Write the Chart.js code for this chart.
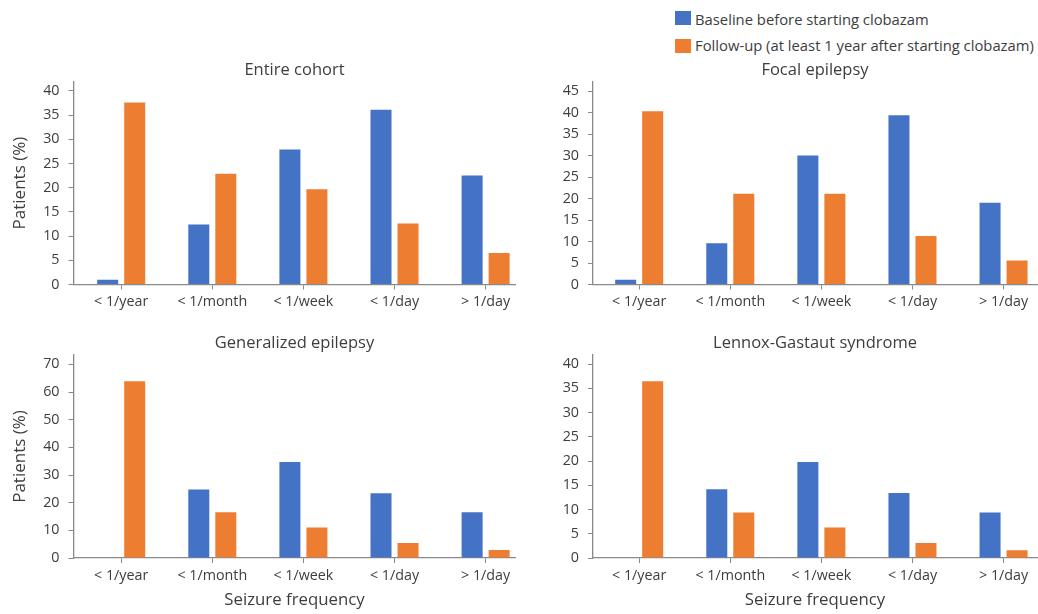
<!DOCTYPE html>
<html>
<head>
<meta charset="utf-8">
<title>Seizure frequency before and after clobazam</title>
<script src="https://cdn.jsdelivr.net/npm/chart.js@4.4.1/dist/chart.umd.min.js"></script>
<style>
  html, body { margin: 0; padding: 0; background: #ffffff; }
  body { position: relative; width: 1038px; height: 614px; overflow: hidden;
         font-family: "Open Sans", sans-serif; color: #3d3d3d; }
  canvas { position: absolute; }
  .swatch { position: absolute; left: 675px; width: 16px; height: 14px; }
  .legend-text { position: absolute; left: 695px; height: 20px; line-height: 20px;
                 font-size: 14.8px; white-space: nowrap; }
</style>
</head>
<body>
<div class="swatch" style="top:11px; background:#4472C4"></div>
<div class="legend-text" id="legend-0" style="top:8.5px"></div>
<div class="swatch" style="top:39px; background:#ED7D31"></div>
<div class="legend-text" id="legend-1" style="top:35px"></div>

<canvas id="entire" width="520" height="268" style="left:0; top:50px"></canvas>
<canvas id="focal" width="518" height="268" style="left:520px; top:50px"></canvas>
<canvas id="generalized" width="520" height="296" style="left:0; top:318px"></canvas>
<canvas id="lgs" width="518" height="296" style="left:520px; top:318px"></canvas>

<script>
// Seizure-frequency categories and series names
const categories = ['< 1/year', '< 1/month', '< 1/week', '< 1/day', '> 1/day'];
const seriesNames = ['Baseline before starting clobazam', 'Follow-up (at least 1 year after starting clobazam)'];

// Percent of patients in each category
const entireBaseline = [1.0, 12.4, 27.9, 36.1, 22.5];
const entireFollowUp = [37.6, 22.9, 19.7, 12.6, 6.5];
const focalBaseline = [1.1, 9.6, 30.0, 39.4, 19.0];
const focalFollowUp = [40.3, 21.1, 21.1, 11.3, 5.6];
const generalizedBaseline = [0, 24.8, 34.7, 23.4, 16.5];
const generalizedFollowUp = [63.9, 16.5, 11.0, 5.4, 2.9];
const lgsBaseline = [0, 14.2, 19.8, 13.4, 9.4];
const lgsFollowUp = [36.5, 9.4, 6.3, 3.1, 1.6];

// Y-axis tick labels per panel
const entireTicks = [0, 5, 10, 15, 20, 25, 30, 35, 40];
const focalTicks = [0, 5, 10, 15, 20, 25, 30, 35, 40, 45];
const generalizedTicks = [0, 10, 20, 30, 40, 50, 60, 70];
const lgsTicks = [0, 5, 10, 15, 20, 25, 30, 35, 40];

const BLUE = '#4472C4';
const ORANGE = '#ED7D31';
const TEXT = '#3d3d3d';
const AXIS = '#898989';
const FONT = '"Open Sans", sans-serif';

document.getElementById('legend-0').textContent = seriesNames[0];
document.getElementById('legend-1').textContent = seriesNames[1];

function makePanel(id, cfg) {
  const toPoints = arr => arr.map((v, i) => ({ x: i, y: v }));
  return new Chart(document.getElementById(id), {
    type: 'bar',
    data: {
      datasets: [
        { label: seriesNames[0], data: toPoints(cfg.baseline), backgroundColor: BLUE,
          borderWidth: 0, categoryPercentage: 0.593, barPercentage: 0.778 },
        { label: seriesNames[1], data: toPoints(cfg.followUp), backgroundColor: ORANGE,
          borderWidth: 0, categoryPercentage: 0.593, barPercentage: 0.778 }
      ]
    },
    options: {
      responsive: false,
      animation: false,
      devicePixelRatio: 1,
      layout: { padding: { left: 0, right: cfg.padRight, top: 0, bottom: 0 } },
      plugins: {
        legend: { display: false },
        tooltip: { enabled: false },
        title: {
          display: true, text: cfg.title, fullSize: false, color: TEXT,
          font: { family: FONT, size: 16.5, weight: 'normal', lineHeight: 1.2 },
          padding: { top: cfg.titleTop, bottom: cfg.titleBottom }
        }
      },
      scales: {
        x: {
          type: 'linear',
          offset: false,
          min: cfg.xMin, max: cfg.xMax,
          afterBuildTicks: s => { s.ticks = categories.map((_, i) => ({ value: i })); },
          afterFit: s => { s.height = cfg.xHeight; },
          ticks: {
            callback: v => categories[v], color: TEXT, padding: 4,
            font: { family: FONT, size: 14.3 }, maxRotation: 0, autoSkip: false
          },
          grid: { display: true, offset: false, drawOnChartArea: false, drawTicks: true,
                  tickLength: 5, color: AXIS, lineWidth: 1 },
          border: { display: true, color: AXIS, width: 1.3 },
          title: {
            display: cfg.xTitle, text: 'Seizure frequency', color: TEXT,
            font: { family: FONT, size: 16.8, lineHeight: 1.2 },
            padding: { top: 0, bottom: 3.9 }
          }
        },
        y: {
          type: 'linear',
          min: 0, max: cfg.yMax,
          afterBuildTicks: s => { s.ticks = cfg.yTicks.map(v => ({ value: v })); },
          afterFit: s => { s.width = cfg.yWidth; },
          ticks: { color: TEXT, padding: 9, font: { family: FONT, size: 14.3 } },
          grid: { display: true, drawOnChartArea: false, drawTicks: true, tickLength: 5,
                  color: AXIS, lineWidth: 1 },
          border: { display: true, color: AXIS, width: 1.3 },
          title: {
            display: cfg.yTitle, text: 'Patients (%)', color: TEXT,
            font: { family: FONT, size: 17, lineHeight: 1.2 },
            padding: { top: 9.8, bottom: 0 }
          }
        }
      }
    }
  });
}

const leftCol = { yWidth: 73.5, padRight: 4.5, xMin: -0.5236, xMax: 4.328, yTitle: true };
const rightCol = { yWidth: 73, padRight: 1, xMin: -0.507, xMax: 4.367, yTitle: false };
const topRow = { titleTop: 10.1, titleBottom: 1.8, xHeight: 33.5, xTitle: false };
const bottomRow = { titleTop: 15.1, titleBottom: 2.1, xHeight: 56, xTitle: true };

makePanel('entire', Object.assign({}, leftCol, topRow, {
  title: 'Entire cohort', baseline: entireBaseline, followUp: entireFollowUp,
  yTicks: entireTicks, yMax: 41.9 }));
makePanel('focal', Object.assign({}, rightCol, topRow, {
  title: 'Focal epilepsy', baseline: focalBaseline, followUp: focalFollowUp,
  yTicks: focalTicks, yMax: 47.2 }));
makePanel('generalized', Object.assign({}, leftCol, bottomRow, {
  title: 'Generalized epilepsy', baseline: generalizedBaseline, followUp: generalizedFollowUp,
  yTicks: generalizedTicks, yMax: 73.4 }));
makePanel('lgs', Object.assign({}, rightCol, bottomRow, {
  title: 'Lennox-Gastaut syndrome', baseline: lgsBaseline, followUp: lgsFollowUp,
  yTicks: lgsTicks, yMax: 41.9 }));
</script>
</body>
</html>
